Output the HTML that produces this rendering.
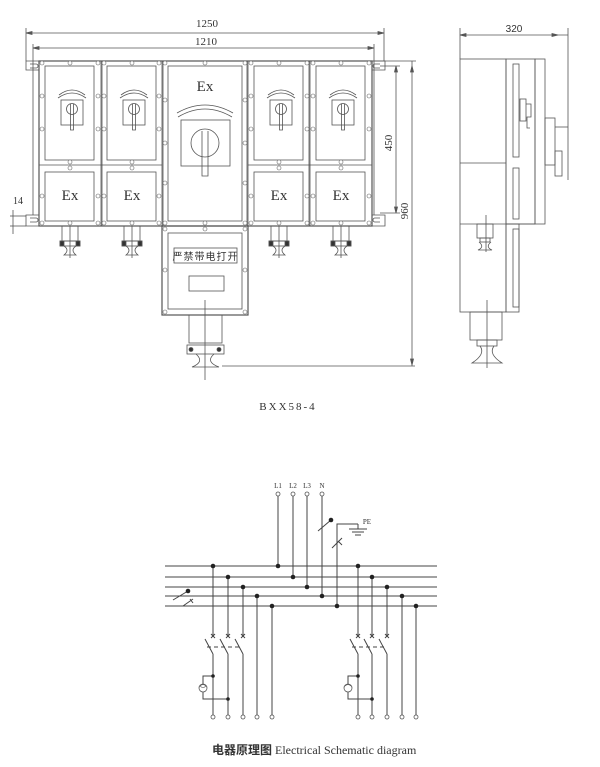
<!DOCTYPE html>
<html><head><meta charset="utf-8"><style>
html,body{margin:0;padding:0;background:#fff;}
svg{display:block;}
text{font-family:"Liberation Serif","Noto Serif CJK SC",serif;fill:#333;}
</style></head><body>
<svg width="600" height="767" viewBox="0 0 600 767" xmlns="http://www.w3.org/2000/svg">
<g stroke="#555" stroke-width="0.8" fill="none">
<line x1="26" y1="33" x2="384" y2="33"/><line x1="33" y1="48" x2="374" y2="48"/>
<line x1="26" y1="28" x2="26" y2="61"/><line x1="384" y1="28" x2="384" y2="61"/>
<line x1="33" y1="44" x2="33" y2="215"/><line x1="374" y1="44" x2="374" y2="215"/>
<polygon points="26,33 32,31.5 32,34.5" fill="#555"/><polygon points="384,33 378,31.5 378,34.5" fill="#555"/>
<polygon points="33,48 39,46.5 39,49.5" fill="#555"/><polygon points="374,48 368,46.5 368,49.5" fill="#555"/>
<line x1="372" y1="61" x2="416" y2="61"/><line x1="380" y1="66" x2="400" y2="66"/><line x1="380" y1="213" x2="400" y2="213"/>
<line x1="396" y1="66" x2="396" y2="213"/><line x1="412" y1="61" x2="412" y2="366"/>
<line x1="222" y1="366" x2="415" y2="366"/>
<polygon points="396,66 394.5,72 397.5,72" fill="#555"/><polygon points="396,213 394.5,207 397.5,207" fill="#555"/>
<polygon points="412,66 410.5,72 413.5,72" fill="#555"/><polygon points="412,365 410.5,359 413.5,359" fill="#555"/>
<line x1="13" y1="210" x2="13" y2="234"/><line x1="10" y1="216" x2="26" y2="216"/><line x1="10" y1="226" x2="26" y2="226"/>
<path d="M39,61 H26 V70 H39 M30,64 h6 a2,2 0 0 1 0,4 h-6"/>
<path d="M39,215 H26 V226 H39 M30,218 h6 a2,2 0 0 1 0,4 h-6"/>
<path d="M372,61 H385 V70 H372 M380,64 h-5 a2,2 0 0 0 0,4 h5"/>
<path d="M372,215 H385 V226 H372 M380,218 h-5 a2,2 0 0 0 0,4 h5"/>
<rect x="39" y="61" width="333" height="165" stroke-width="1.2"/>
<line x1="101" y1="61" x2="101" y2="226"/><line x1="102" y1="61" x2="102" y2="226"/>
<line x1="162" y1="61" x2="162" y2="226"/><line x1="163" y1="61" x2="163" y2="226"/>
<line x1="247" y1="61" x2="247" y2="226"/><line x1="248" y1="61" x2="248" y2="226"/>
<line x1="309" y1="61" x2="309" y2="226"/><line x1="310" y1="61" x2="310" y2="226"/>
<line x1="39" y1="165" x2="162" y2="165"/><line x1="248" y1="165" x2="372" y2="165"/>
<rect x="45" y="66" width="49" height="94"/><rect x="107" y="66" width="49" height="94"/>
<rect x="254" y="66" width="49" height="94"/><rect x="316" y="66" width="49" height="94"/>
<rect x="45" y="172" width="49" height="49"/><rect x="107" y="172" width="49" height="49"/>
<rect x="254" y="172" width="49" height="49"/><rect x="316" y="172" width="49" height="49"/>
<rect x="168" y="66" width="74" height="155"/>
<g id="sw">
<path d="M58,98 Q72,88 86,98 M59,95 Q72,85 85,95"/>
<rect x="61" y="100" width="22" height="25"/>
<circle cx="72" cy="109" r="5.5"/>
<path d="M70.5,104 V130 H73.5 V104"/>
</g>
<use href="#sw" x="62"/><use href="#sw" x="209"/><use href="#sw" x="271"/>
<path d="M177,113 Q205,97 233,113 M178,117 Q205,101 232,117"/>
<rect x="181" y="120" width="49" height="46"/>
<circle cx="205" cy="143" r="14"/>
<path d="M202,131 V176 H208 V131"/>
<rect x="162" y="226" width="86" height="89" stroke-width="1.2"/>
<rect x="168" y="233" width="74" height="76"/>
<rect x="174" y="248" width="63" height="15"/>
<rect x="189" y="276" width="35" height="15"/>
<g id="gl">
<rect x="62" y="226" width="16" height="15"/>
<rect x="60" y="241" width="20" height="5"/>
<rect x="60" y="241" width="4" height="5" fill="#333"/><rect x="76" y="241" width="4" height="5" fill="#333"/>
<path d="M64,246 Q70,250 64,255 H76 Q70,250 76,246"/>
<line x1="70" y1="226" x2="70" y2="258"/>
</g>
<use href="#gl" x="62"/><use href="#gl" x="209"/><use href="#gl" x="271"/>
<rect x="189" y="315" width="33" height="28"/>
<rect x="187" y="345" width="37" height="9"/>
<circle cx="191" cy="349.5" r="2" fill="#333"/><circle cx="219" cy="349.5" r="2" fill="#333"/>
<path d="M196,354 Q205,362 192,367 H219 Q205,362 214,354"/>
<line x1="205" y1="300" x2="205" y2="380"/>
<g fill="#fff" stroke="#666" stroke-width="0.6">
<circle cx="42" cy="63" r="2"/><circle cx="70" cy="63" r="2"/><circle cx="98" cy="63" r="2"/><circle cx="104" cy="63" r="2"/><circle cx="132" cy="63" r="2"/><circle cx="159" cy="63" r="2"/>
<circle cx="165" cy="63" r="2"/><circle cx="205" cy="63" r="2"/><circle cx="245" cy="63" r="2"/>
<circle cx="251" cy="63" r="2"/><circle cx="279" cy="63" r="2"/><circle cx="307" cy="63" r="2"/><circle cx="313" cy="63" r="2"/><circle cx="341" cy="63" r="2"/><circle cx="369" cy="63" r="2"/>
<circle cx="42" cy="96" r="2"/><circle cx="42" cy="129" r="2"/><circle cx="98" cy="96" r="2"/><circle cx="98" cy="129" r="2"/><circle cx="104" cy="96" r="2"/><circle cx="104" cy="129" r="2"/><circle cx="159" cy="96" r="2"/><circle cx="159" cy="129" r="2"/>
<circle cx="251" cy="96" r="2"/><circle cx="251" cy="129" r="2"/><circle cx="307" cy="96" r="2"/><circle cx="307" cy="129" r="2"/><circle cx="313" cy="96" r="2"/><circle cx="313" cy="129" r="2"/><circle cx="369" cy="96" r="2"/><circle cx="369" cy="129" r="2"/>
<circle cx="165" cy="100" r="2"/><circle cx="165" cy="143" r="2"/><circle cx="165" cy="183" r="2"/><circle cx="245" cy="100" r="2"/><circle cx="245" cy="143" r="2"/><circle cx="245" cy="183" r="2"/>
<circle cx="70" cy="162" r="2"/><circle cx="70" cy="168" r="2"/><circle cx="132" cy="162" r="2"/><circle cx="132" cy="168" r="2"/><circle cx="279" cy="162" r="2"/><circle cx="279" cy="168" r="2"/><circle cx="341" cy="162" r="2"/><circle cx="341" cy="168" r="2"/>
<circle cx="42" cy="196" r="2"/><circle cx="98" cy="196" r="2"/><circle cx="104" cy="196" r="2"/><circle cx="159" cy="196" r="2"/><circle cx="251" cy="196" r="2"/><circle cx="307" cy="196" r="2"/><circle cx="313" cy="196" r="2"/><circle cx="369" cy="196" r="2"/>
<circle cx="42" cy="223" r="2"/><circle cx="70" cy="223" r="2"/><circle cx="98" cy="223" r="2"/><circle cx="104" cy="223" r="2"/><circle cx="132" cy="223" r="2"/><circle cx="159" cy="223" r="2"/><circle cx="165" cy="223" r="2"/><circle cx="205" cy="223" r="2"/><circle cx="245" cy="223" r="2"/><circle cx="251" cy="223" r="2"/><circle cx="279" cy="223" r="2"/><circle cx="307" cy="223" r="2"/><circle cx="313" cy="223" r="2"/><circle cx="341" cy="223" r="2"/><circle cx="369" cy="223" r="2"/>
<circle cx="165" cy="229" r="2"/><circle cx="205" cy="229" r="2"/><circle cx="245" cy="229" r="2"/><circle cx="165" cy="270" r="2"/><circle cx="245" cy="270" r="2"/><circle cx="165" cy="312" r="2"/><circle cx="245" cy="312" r="2"/>
</g>
<line x1="460" y1="35" x2="568" y2="35"/><polygon points="460,35 466,33.5 466,36.5" fill="#555"/><polygon points="558,35 552,33.5 552,36.5" fill="#555"/>
<line x1="460" y1="28" x2="460" y2="59"/><line x1="568" y1="28" x2="568" y2="180"/>
<rect x="460" y="59" width="46" height="253"/>
<line x1="460" y1="163" x2="506" y2="163"/><line x1="460" y1="224" x2="535" y2="224"/>
<rect x="506" y="59" width="29" height="165"/>
<rect x="513" y="64" width="6" height="93"/><rect x="513" y="168" width="6" height="51"/>
<rect x="506" y="224" width="13" height="88"/><rect x="513" y="229" width="6" height="78"/>
<rect x="535" y="59" width="10" height="165"/>
<rect x="520" y="99" width="6" height="22"/><path d="M526,104 H531 V117 H527 V128 H530"/>
<rect x="545" y="118" width="10" height="47"/>
<rect x="555" y="151" width="7" height="25"/><line x1="555" y1="127" x2="568" y2="127"/>
<rect x="477" y="224" width="16" height="14"/><rect x="480" y="238" width="10" height="4"/>
<path d="M479,242 Q485,247 478,250 H492 Q485,247 491,242"/>
<line x1="486" y1="215" x2="486" y2="252"/>
<rect x="470" y="312" width="32" height="28"/><rect x="477" y="340" width="20" height="6"/>
<path d="M480,346 Q486,354 472,363 H502 Q488,354 494,346"/>
<line x1="487" y1="300" x2="487" y2="368"/>
<g stroke="#444" stroke-width="1">
<line x1="165" y1="566" x2="437" y2="566"/><line x1="165" y1="577" x2="437" y2="577"/><line x1="165" y1="587" x2="437" y2="587"/><line x1="165" y1="596" x2="437" y2="596"/><line x1="165" y1="606" x2="437" y2="606"/>
<line x1="278" y1="496" x2="278" y2="566"/><line x1="293" y1="496" x2="293" y2="577"/><line x1="307" y1="496" x2="307" y2="587"/><line x1="322" y1="496" x2="322" y2="596"/>
<line x1="318" y1="531" x2="331" y2="520"/>
<path d="M358,524 H337 V606 M358,524 V529 M349,529 H367 M352,532 H364 M355,535 H361"/>
<path d="M332,548 L342,538 M338,541 l4,4"/>
<line x1="173" y1="600" x2="188" y2="591"/><path d="M183,606 L193,599 M190,599 l3,4"/>
<path d="M213,566 V636 M228,577 V636 M243,587 V636 M257,596 V717 M272,606 V717"/>
<path d="M211,634 l4,4 M215,634 l-4,4 M226,634 l4,4 M230,634 l-4,4 M241,634 l4,4 M245,634 l-4,4"/>
<path d="M205,639 L213,654 M220,639 L228,654 M235,639 L243,654" />
<path d="M213,654 V717 M228,654 V717 M243,654 V717"/>
<line x1="207" y1="647" x2="240" y2="647" stroke-dasharray="4,3"/>
<path d="M213,676 H203 V684 M203,692 V699 H228"/>
<path d="M358,566 V636 M372,577 V636 M387,587 V636 M402,596 V717 M416,606 V717"/>
<path d="M356,634 l4,4 M360,634 l-4,4 M370,634 l4,4 M374,634 l-4,4 M385,634 l4,4 M389,634 l-4,4"/>
<path d="M350,639 L358,654 M364,639 L372,654 M379,639 L387,654"/>
<path d="M358,654 V717 M372,654 V717 M387,654 V717"/>
<line x1="352" y1="647" x2="385" y2="647" stroke-dasharray="4,3"/>
<path d="M358,676 H348 V684 M348,692 V699 H372"/>
</g>
<g fill="#fff" stroke="#555" stroke-width="0.8">
<circle cx="278" cy="494" r="2"/><circle cx="293" cy="494" r="2"/><circle cx="307" cy="494" r="2"/><circle cx="322" cy="494" r="2"/>
<circle cx="203" cy="688" r="4"/><circle cx="348" cy="688" r="4"/>
<circle cx="213" cy="717" r="2"/><circle cx="228" cy="717" r="2"/><circle cx="243" cy="717" r="2"/><circle cx="257" cy="717" r="2"/><circle cx="272" cy="717" r="2"/>
<circle cx="358" cy="717" r="2"/><circle cx="372" cy="717" r="2"/><circle cx="387" cy="717" r="2"/><circle cx="402" cy="717" r="2"/><circle cx="416" cy="717" r="2"/>
</g>
<g fill="#222" stroke="none">
<circle cx="278" cy="566" r="2.3"/><circle cx="293" cy="577" r="2.3"/><circle cx="307" cy="587" r="2.3"/><circle cx="322" cy="596" r="2.3"/><circle cx="337" cy="606" r="2.3"/><circle cx="331" cy="520" r="2.3"/><circle cx="188" cy="591" r="2.3"/>
<circle cx="213" cy="566" r="2.3"/><circle cx="228" cy="577" r="2.3"/><circle cx="243" cy="587" r="2.3"/><circle cx="257" cy="596" r="2.3"/><circle cx="272" cy="606" r="2.3"/>
<circle cx="358" cy="566" r="2.3"/><circle cx="372" cy="577" r="2.3"/><circle cx="387" cy="587" r="2.3"/><circle cx="402" cy="596" r="2.3"/><circle cx="416" cy="606" r="2.3"/>
<circle cx="213" cy="676" r="1.8"/><circle cx="228" cy="699" r="1.8"/><circle cx="358" cy="676" r="1.8"/><circle cx="372" cy="699" r="1.8"/>
</g>
<path d="M200,686 q3,-3 6,0 q-3,3 -6,0 M345,686 q3,-3 6,0" stroke="#555" stroke-width="0.6"/>
</g>
<g font-size="11">
<text x="207" y="27" text-anchor="middle">1250</text>
<text x="206" y="45" text-anchor="middle">1210</text>
<text x="18" y="204" text-anchor="middle" font-size="10">14</text>
<text x="514" y="32" text-anchor="middle" font-size="10" style="font-family:'Liberation Sans',sans-serif">320</text>
<text transform="translate(392,143) rotate(-90)" text-anchor="middle">450</text>
<text transform="translate(408,211) rotate(-90)" text-anchor="middle">960</text>
</g>
<g font-size="15" fill="#444" text-anchor="middle">
<text x="205" y="91">Ex</text>
<text x="70" y="200">Ex</text><text x="132" y="200">Ex</text><text x="279" y="200">Ex</text><text x="341" y="200">Ex</text>
</g>
<text x="205.5" y="260" font-size="10" text-anchor="middle" style="font-family:'Noto Sans CJK SC','WenQuanYi Zen Hei',sans-serif" letter-spacing="1">严禁带电打开</text>
<text x="288" y="410" font-size="11" text-anchor="middle" letter-spacing="2">BXX58-4</text>
<g font-size="7" text-anchor="middle">
<text x="278" y="488">L1</text><text x="293" y="488">L2</text><text x="307" y="488">L3</text><text x="322" y="488">N</text>
<text x="367" y="524">PE</text>
</g>
<text x="212" y="754" font-size="12" fill="#222"><tspan style="font-family:'Noto Sans CJK SC',sans-serif;font-weight:bold">电器原理图</tspan> Electrical Schematic diagram</text>
</svg>
</body></html>
